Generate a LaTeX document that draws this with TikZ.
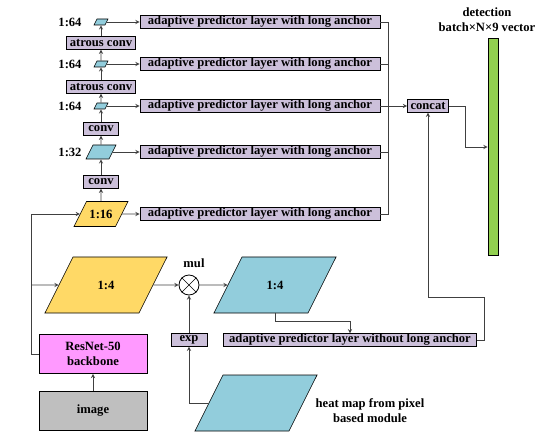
\documentclass[tikz,border=0pt]{standalone}
\usepackage{fontspec}
\setmainfont{Liberation Serif}
\usetikzlibrary{shapes.geometric,positioning,arrows}

\definecolor{lavender}{HTML}{CCC0DA}
\definecolor{featblue}{HTML}{92CDDC}
\definecolor{featyellow}{HTML}{FFD966}
\definecolor{detgreen}{HTML}{92D050}
\definecolor{backpink}{HTML}{FF99FF}
\definecolor{imggray}{HTML}{BFBFBF}

\begin{document}
\begin{tikzpicture}[x=1pt,y=-1pt,>=stealth,
  font=\fontsize{12.6}{15}\selectfont\bfseries,
  layer/.style={draw=black,fill=lavender,line width=0.8pt,inner ysep=0pt,inner xsep=3pt,minimum height=12.5pt},
  fmap/.style={draw=black,line width=0.6pt,inner sep=0pt,align=center,trapezium,trapezium left angle=63.4,trapezium right angle=116.6},
  bigmap/.style={fmap,text width=66pt,text height=32.3pt,text depth=23.7pt},
  map16/.style={fmap,fill=featyellow,text width=29pt,text height=16.8pt,text depth=8.2pt},
  map32/.style={fmap,fill=featblue,text width=16pt,text height=7pt,text depth=7pt},
  map64/.style={fmap,fill=featblue,text width=8pt,text height=3pt,text depth=3pt},
  block/.style={draw=black,line width=0.8pt,minimum width=108pt,minimum height=39pt,align=center},
  link/.style={draw=black!75,line width=0.9pt}]

\useasboundingbox (0,0) rectangle (542,436);

% feature pyramid
\node [map64] at (101,22) (f64c) {};
\node [layer] at (101,43) (atrous2) {atrous conv};
\node [map64] at (101,64) (f64b) {};
\node [layer] at (101,87) (atrous1) {atrous conv};
\node [map64] at (101,106) (f64a) {};
\node [layer,minimum width=35pt] at (101,129) (conv2) {conv};
\node [map32] at (101,152) (f32) {};
\node [layer,minimum width=35pt] at (101,182) (conv1) {conv};
\node [map16] at (101,214) (f16) {1:16};

\node at (70,22) (l64c) {1:64};
\node at (70,64) (l64b) {1:64};
\node at (70,106) (l64a) {1:64};
\node at (70,152) (l32) {1:32};

\draw [->,link] (f16) -- (conv1);
\draw [->,link] (conv1) -- (f32);
\draw [->,link] (f32) -- (conv2);
\draw [->,link] (conv2) -- (f64a);
\draw [->,link] (f64a) -- (atrous1);
\draw [->,link] (atrous1) -- (f64b);
\draw [->,link] (f64b) -- (atrous2);
\draw [->,link] (atrous2) -- (f64c);

% predictor layers
\node [layer,minimum width=240pt] at (260,22) (apl5) {adaptive predictor layer with long anchor};
\node [layer,minimum width=240pt] at (260,64) (apl4) {adaptive predictor layer with long anchor};
\node [layer,minimum width=240pt] at (260,106) (apl3) {adaptive predictor layer with long anchor};
\node [layer,minimum width=240pt] at (260,152) (apl2) {adaptive predictor layer with long anchor};
\node [layer,minimum width=240pt] at (260,214) (apl1) {adaptive predictor layer with long anchor};

\draw [->,link] (f64c) -- (apl5);
\draw [->,link] (f64b) -- (apl4);
\draw [->,link] (f64a) -- (apl3);
\draw [->,link] (f32) -- (apl2);
\draw [->,link] (f16) -- (apl1);

\coordinate (bus) at (388,0);
\draw [link] (apl5.east) -- (apl5.east -| bus) -- (apl1.east -| bus) -- (apl1.east);
\draw [link] (apl4.east) -- (apl4.east -| bus);
\draw [link] (apl2.east) -- (apl2.east -| bus);

\node [layer] at (428,106) (concat) {concat};
\draw [->,link] (apl3.east) -- (concat);

% detection output
\node [draw=black,line width=0.8pt,fill=detgreen,minimum width=10pt,minimum height=217pt,inner sep=0pt] at (493,146.5) (det) {};
\node [align=center,inner sep=0pt] at (487,19.5) (detlbl) {detection\\batch\texttimes N\texttimes 9 vector};
\coordinate (turn) at (465,147);
\draw [->,link] (concat.east) -| (turn) -- (turn -| det.west);

% backbone
\node [block,fill=imggray] at (93,411) (image) {image};
\node [block,fill=backpink] at (93,354) (backbone) {ResNet-50\\backbone};
\draw [->,link] (image) -- (backbone);

\coordinate (trunk) at (31,214);
\coordinate (split) at (31,285);
\draw [->,link] (backbone.west) -| (trunk) -- (f16);

% 1:4 branch
\node [bigmap,fill=featyellow] at (106,285) (f4y) {1:4};
\node [draw=black,circle,line width=0.8pt,minimum size=20pt,inner sep=0pt] at (189,285) (mul) {};
\draw [line width=0.7pt] (mul.north west) -- (mul.south east) (mul.south west) -- (mul.north east);
\node at (194,263) (mullbl) {mul};
\node [bigmap,fill=featblue] at (275,285) (f4b) {1:4};

\draw [->,link] (split) -- (f4y);
\draw [->,link] (f4y) -- (mul);
\draw [->,link] (mul) -- (f4b);

\node [layer,minimum width=36pt] at (189,340) (exp) {exp};
\node [bigmap,fill=featblue] at (256,403) (heat) {};
\node [align=center] at (370,411) (heatlbl) {heat map from pixel\\based module};

\draw [->,link] (heat) -| (exp);
\draw [->,link] (exp) -- (mul);

\node [layer,minimum width=253pt] at (350,340) (apl0) {adaptive predictor layer without long anchor};
\draw [->,link] (f4b.center |- f4b.south) -- ++(0,8) -| (apl0.north);
\draw [->,link] (apl0.east) -- ++(8,0) -- ++(0,-43) -| (concat.south);

\end{tikzpicture}
\end{document}
